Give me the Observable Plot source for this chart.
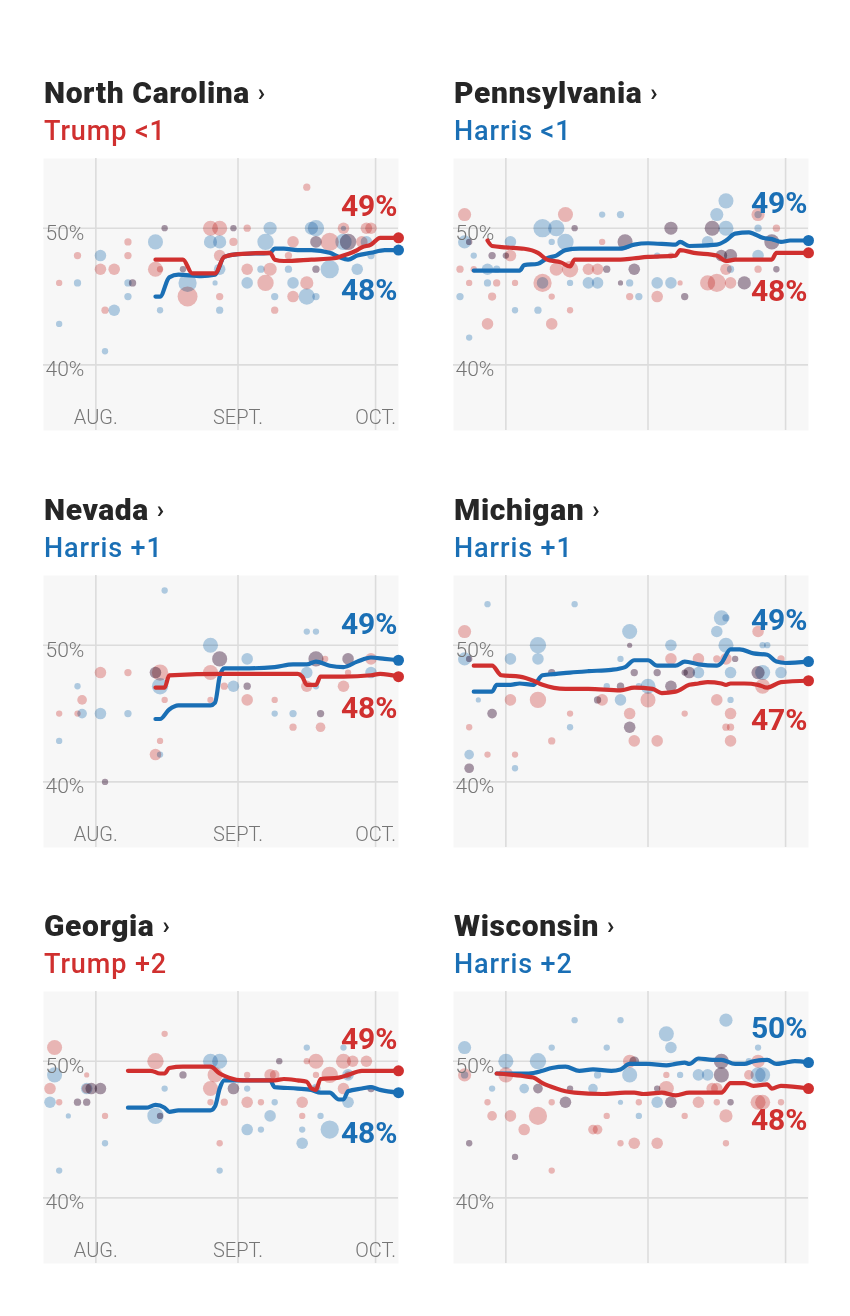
<!DOCTYPE html>
<html><head><meta charset="utf-8">
<script src="https://cdn.jsdelivr.net/npm/d3@7"></script>
<script src="https://cdn.jsdelivr.net/npm/@observablehq/plot@0.6"></script>
<style>
html,body{margin:0;padding:0;background:#fff;}
body{width:850px;height:1316px;position:relative;overflow:hidden;font-family:Roboto,"Liberation Sans",sans-serif;}
.title{position:absolute;font-weight:900;font-size:30px;line-height:30px;color:#262626;letter-spacing:0.6px;white-space:nowrap;}
.title .chev{font-weight:700;font-size:24px;margin-left:8px;letter-spacing:0;position:relative;top:-2px;}
.sub{position:absolute;font-weight:500;font-size:27px;line-height:27px;letter-spacing:0.9px;white-space:nowrap;}
.chart{position:absolute;}
</style></head>
<body>
<script>
// ---------------- data ----------------
const states = ["North Carolina", "Pennsylvania", "Nevada", "Michigan", "Georgia", "Wisconsin"];
const leaders = ["Trump <1", "Harris <1", "Harris +1", "Harris +1", "Trump +2", "Harris +2"];
const leaderParty = ["T", "H", "H", "H", "T", "H"];
const monthTicks = ["08-01", "09-01", "10-01"];
const monthLabels = ["AUG.", "SEPT.", "OCT."];
const pctTicks = [40, 50];

// end labels [Harris, Trump]
const ncEnd = ["48%", "49%"];
const paEnd = ["49%", "48%"];
const nvEnd = ["49%", "48%"];
const miEnd = ["49%", "47%"];
const gaEnd = ["48%", "49%"];
const wiEnd = ["50%", "48%"];

// polls: [date (2024 MM-DD), candidate, percent, sample size]
const ncPolls = [
["07-24","T",46,300],["07-24","H",43,300],["07-28","T",48,400],["07-28","H",46,400],
["08-02","H",48,1000],["08-02","T",47,1000],["08-03","T",44,400],["08-03","H",41,300],
["08-05","T",47,1000],["08-05","H",44,1000],["08-08","T",49,400],["08-08","H",46,400],["08-08","T",48,400],["08-08","H",45,400],
["08-09","T",46,400],["08-09","H",46,400],["08-14","H",49,1700],["08-14","T",47,1700],
["08-15","H",44,300],["08-15","T",47,300],["08-16","T",50,300],["08-16","H",50,300],
["08-20","T",47,300],["08-20","H",47,300],["08-21","H",46,2500],["08-21","T",45,3000],
["08-26","T",50,1700],["08-26","H",49,1300],["08-28","T",50,1700],["08-28","H",49,1300],["08-28","T",48,1000],["08-28","H",47,1000],
["08-27","H",46,200],["08-28","T",45,400],["08-28","H",44,400],
["08-31","T",50,300],["08-31","H",50,300],["08-31","T",49,500],
["09-03","T",50,400],["09-03","T",47,1000],["09-03","H",46,1000],
["09-07","H",49,2000],["09-07","T",46,2000],["09-06","H",47,400],
["09-08","H",50,1300],["09-08","T",47,1300],["09-09","H",45,400],["09-09","T",44,400],
["09-12","T",48,400],["09-12","H",47,400],["09-13","T",49,1000],["09-13","H",46,1000],["09-13","T",45,1000],
["09-16","T",46,1300],["09-16","H",45,2000],["09-16","T",53,400],["09-17","H",50,1300],
["09-18","H",50,2000],["09-18","T",49,1000],["09-18","H",49,1000],["09-18","T",47,400],["09-18","H",47,400],["09-18","H",45,400],
["09-21","T",49,2500],["09-21","H",47,2500],["09-24","T",50,1000],["09-24","H",49,2000],["09-24","H",50,200],
["09-25","T",49,2000],["09-25","H",49,2000],["09-27","H",47,1000],["09-28","T",49,1000],
["09-29","T",50,1000],["09-29","H",49,1000],["09-30","T",50,1000],["09-30","H",48,400]
];
const paPolls = [
["07-23","T",51,1300],["07-23","H",49,1300],["07-24","T",49,300],["07-24","H",49,300],
["07-25","H",48,300],["07-25","T",47,300],["07-22","T",47,400],["07-22","H",45,400],
["07-24","T",46,300],["07-24","H",42,300],["07-28","H",47,1000],["07-28","H",46,400],["07-28","T",43,1000],
["07-29","T",45,500],["07-29","H",48,400],["07-29","T",48,400],["07-30","H",47,400],["07-30","T",46,400],
["08-01","T",48,300],["08-01","H",48,300],["08-02","H",49,1000],["08-02","T",48,1000],
["08-03","T",46,300],["08-03","H",44,300],["08-08","H",44,400],
["08-09","H",50,2500],["08-09","T",46,2500],["08-09","H",46,1000],
["08-11","H",49,300],["08-11","T",45,300],["08-11","T",43,1000],
["08-12","H",50,2000],["08-12","T",47,1300],["08-14","H",49,2000],["08-14","T",51,1700],["08-15","T",47,2000],
["08-16","T",50,300],["08-16","H",50,300],["08-15","H",46,300],["08-15","T",44,300],
["08-19","T",47,1000],["08-19","H",46,1000],["08-21","T",47,1000],["08-21","H",46,1000],
["08-22","H",51,300],["08-22","T",49,300],["08-23","T",47,400],["08-23","H",47,400],
["08-26","H",51,400],["08-26","T",46,200],["08-26","H",46,200],["08-28","H",46,400],["08-28","T",45,400],
["08-27","T",49,1700],["08-27","H",49,1700],["08-29","T",47,1000],["08-29","H",47,1000],["08-30","H",45,400],
["09-03","T",45,1000],["09-03","H",46,1000],["09-03","H",48,300],
["09-06","H",46,1000],["09-06","T",48,300],["09-06","T",50,1300],["09-06","H",50,1300],
["09-09","T",45,400],["09-09","H",45,400],["09-08","T",46,200],
["09-14","H",49,1000],["09-14","T",46,1700],["09-15","T",50,1700],["09-15","H",50,1700],
["09-16","H",51,1300],["09-16","T",46,2500],["09-18","H",52,1700],["09-18","H",50,1700],["09-18","T",47,1000],
["09-17","T",48,1000],["09-17","H",48,1000],["09-19","T",48,1300],["09-19","H",48,1300],["09-19","T",46,1000],["09-19","H",47,400],
["09-22","T",46,1300],["09-22","H",46,1300],
["09-25","T",51,1300],["09-25","H",51,400],["09-25","H",50,400],["09-25","H",48,1000],["09-25","T",47,400],
["09-28","T",49,1700],["09-28","H",49,1700],["09-29","T",50,400],["09-29","T",47,300],["09-29","H",47,300]
];
const nvPolls = [
["08-16","H",54,300],["07-24","T",45,300],["07-24","H",43,300],["07-28","H",47,300],["07-28","T",45,300],
["07-29","T",46,700],["07-29","H",45,700],["08-02","T",48,1000],["08-02","H",45,1000],
["08-03","T",40,300],["08-03","H",40,300],["08-08","T",48,400],["08-08","H",45,400],
["08-14","T",48,1000],["08-14","H",48,1000],["08-15","T",48,2000],["08-15","H",47,2000],
["08-16","T",46,300],["08-15","T",43,300],["08-14","T",42,1000],["08-15","H",42,300],
["08-26","H",50,1700],["08-26","T",48,1700],["08-26","T",46,300],["08-28","T",49,1700],["08-28","H",49,1700],
["08-29","T",47,400],["08-31","H",47,1000],
["09-03","H",49,1000],["09-03","T",46,1000],["09-03","T",47,400],["09-03","H",47,400],
["09-09","T",46,300],["09-09","H",45,300],["09-13","H",45,400],["09-13","T",44,400],
["09-16","H",51,300],["09-16","H",48,1000],["09-16","T",47,1000],
["09-18","H",51,300],["09-18","T",49,1700],["09-18","H",49,1700],["09-18","H",47,300],
["09-19","T",45,400],["09-19","H",45,400],["09-19","T",44,700],["09-20","T",49,300],
["09-24","T",47,1000],["09-25","T",49,1000],["09-25","H",49,1000],["09-25","T",48,300],
["09-30","T",49,1000],["09-30","H",48,1000]
];
const miPolls = [
["07-28","H",53,300],["07-23","T",51,1300],["07-23","H",49,1300],["07-24","T",49,300],["07-24","H",49,300],
["07-24","T",44,300],["07-24","H",42,700],["07-24","T",41,700],["07-24","H",41,700],["07-26","H",46,200],
["07-28","T",42,300],["07-29","T",45,700],["07-29","H",45,700],["08-02","H",49,1000],["08-02","T",46,1000],
["08-03","T",42,300],["08-03","H",41,300],["08-08","H",50,2000],["08-08","H",49,1000],["08-08","T",46,2000],
["08-11","T",48,400],["08-11","H",48,400],["08-11","T",43,400],["08-15","T",45,300],["08-15","H",44,300],
["08-16","H",53,300],["08-21","T",46,400],["08-21","H",46,400],["08-22","T",46,1000],["08-23","H",47,300],
["08-26","H",49,300],["08-26","H",46,1000],["08-26","T",47,400],["08-26","H",47,400],
["08-28","H",51,1700],["08-28","T",50,200],["08-28","H",50,200],["08-28","T",45,1000],["08-28","T",44,1000],["08-28","H",44,1000],
["08-29","T",48,400],["08-29","H",48,400],["08-29","T",43,1000],["08-30","H",47,300],
["09-01","H",47,1700],["09-01","T",46,1700],["09-03","T",48,400],["09-03","H",48,400],["09-03","T",43,1000],
["09-06","H",50,1000],["09-06","T",49,1000],["09-06","T",47,1000],["09-06","H",47,1000],
["09-09","T",45,300],["09-09","T",48,300],["09-09","H",48,300],["09-10","T",48,1000],["09-10","H",48,1000],
["09-12","T",49,1000],["09-12","H",48,1000],["09-16","H",51,1000],["09-16","T",46,1000],["09-16","T",49,400],
["09-17","H",52,1700],["09-18","H",52,400],["09-18","H",50,1700],["09-18","T",49,1000],
["09-19","H",48,1000],["09-19","T",45,1000],["09-19","H",46,300],["09-19","T",44,400],["09-19","T",43,1000],["09-18","T",44,400],
["09-20","T",49,300],["09-20","H",49,300],
["09-25","T",51,1000],["09-25","T",48,1300],["09-25","H",48,1300],["09-26","H",48,1700],["09-26","T",47,1700],
["09-26","H",50,300],["09-27","H",50,300],["09-30","T",49,400],["09-30","H",48,1000]
];
const gaPolls = [
["07-23","T",51,1700],["07-23","H",49,1700],["07-22","T",48,1000],["07-22","H",47,1000],
["07-24","T",47,300],["07-24","H",42,300],["07-26","H",46,200],["07-28","T",47,400],["07-28","H",47,400],
["07-30","T",47,400],["07-30","H",47,400],["07-30","T",48,700],["07-30","H",48,1000],
["07-31","T",48,1000],["07-31","H",48,1000],["08-02","T",48,1000],["08-02","H",48,1000],["07-30","T",49,200],
["08-03","T",46,300],["08-03","H",44,300],["08-14","T",50,2000],["08-14","H",46,2000],["08-15","T",46,300],["08-15","H",46,300],
["08-16","H",48,300],["08-16","T",52,300],["08-20","T",49,400],["08-20","H",49,400],
["08-26","H",50,1700],["08-26","T",48,1700],["08-26","T",47,300],["08-28","H",50,1700],["08-27","T",49,1700],
["08-28","T",44,300],["08-28","H",42,300],["08-29","T",47,400],["08-31","T",48,1000],["08-31","H",48,1000],
["09-03","H",48,300],["09-03","T",47,1000],["09-03","H",45,1000],["09-03","T",49,300],
["09-06","T",47,300],["09-06","H",45,300],["09-08","T",49,1000],["09-08","H",46,1000],["09-09","T",49,700],
["09-09","H",47,300],["09-10","T",50,300],["09-10","H",50,300],
["09-15","T",47,1000],["09-15","T",46,300],["09-15","H",45,300],["09-15","H",44,1000],
["09-16","H",51,300],["09-16","T",50,300],["09-18","T",50,1700],["09-18","T",49,300],["09-18","H",48,700],["09-18","T",48,300],
["09-19","H",46,300],["09-21","T",49,2000],["09-21","H",45,2500],
["09-24","T",50,1700],["09-24","T",48,1000],["09-24","H",51,300],["09-25","H",49,1000],["09-25","T",49,400],["09-25","H",47,1000],
["09-26","T",50,1000],["09-29","T",50,1000],["09-30","H",48,400],["09-30","T",48,400]
];
const wiPolls = [
["07-23","H",51,1300],["07-23","T",49,1300],["07-23","H",49,400],["07-24","T",44,300],["07-24","H",44,300],
["07-28","T",47,300],["07-29","T",46,700],["07-29","H",48,300],["08-01","H",50,1700],["08-01","T",49,1700],
["08-02","T",46,1000],["08-03","T",43,300],["08-03","H",43,300],["08-05","H",48,700],["08-05","T",45,1000],
["08-08","H",50,2000],["08-08","T",46,2500],["08-08","T",48,700],["08-08","H",48,700],
["08-11","H",51,300],["08-11","T",42,300],["08-11","T",47,300],["08-14","T",47,1000],["08-14","H",47,1000],
["08-15","T",48,300],["08-15","H",48,300],["08-16","H",53,300],["08-20","H",48,700],["08-21","T",45,700],["08-20","T",45,700],
["08-21","H",49,400],["08-23","H",51,300],["08-23","T",46,300],["08-26","T",44,300],["08-26","H",47,200],["08-26","H",53,300],
["08-28","T",50,1300],["08-28","H",49,1700],["08-29","T",44,1000],["08-29","T",50,700],["08-29","H",50,700],
["08-30","T",47,300],["08-30","H",46,300],["09-03","H",47,1000],["09-03","T",44,1000],["09-03","T",48,300],["09-03","H",48,300],
["09-05","T",48,1700],["09-05","T",49,300],["09-05","H",52,1700],["09-06","H",51,1000],["09-06","T",47,1000],["09-06","H",47,1000],
["09-09","T",46,300],["09-08","H",49,300],["09-12","H",49,1000],["09-12","T",47,1000],["09-14","H",49,1000],["09-15","T",48,1000],
["09-16","T",48,1000],["09-16","T",47,300],["09-17","T",50,1700],["09-17","H",50,1700],["09-17","T",49,1700],["09-17","H",49,1700],
["09-18","H",53,1300],["09-18","T",46,1300],["09-18","T",44,300],["09-19","T",47,300],["09-19","H",47,300],
["09-23","T",49,700],["09-23","H",50,300],["09-25","T",50,1300],["09-25","H",51,300],["09-25","H",49,1700],["09-25","T",47,1700],
["09-26","H",49,1700],["09-26","T",47,1700],["09-30","T",47,300]
];

// polling averages: [date, percent]
const ncHarris = [["08-14",45.0],["08-15",45.0],["08-17",46.4],["08-19",46.6],["08-24",46.5],["08-27",46.6],["08-29",47.9],["09-01",48.1],["09-08",48.2],["09-09",48.5],["09-11",48.5],["09-14",48.4],["09-17",48.4],["09-21",48.2],["09-23",47.9],["09-25",47.7],["09-27",48.0],["09-30",48.2],["10-03",48.4],["10-06",48.4]];
const ncTrump = [["08-14",47.7],["08-20",47.7],["08-22",46.7],["08-27",46.7],["08-29",47.9],["09-01",48.1],["09-08",48.2],["09-09",47.7],["09-11",47.6],["09-17",47.7],["09-22",47.8],["09-24",48.0],["09-27",48.4],["09-28",48.6],["09-30",48.8],["10-02",49.3],["10-06",49.3]];
const paHarris = [["07-25",46.9],["08-04",46.9],["08-05",47.3],["08-08",47.4],["08-10",47.8],["08-12",48.0],["08-14",48.4],["08-17",48.5],["08-26",48.5],["08-29",48.8],["09-01",48.9],["09-07",48.8],["09-08",49.0],["09-10",48.7],["09-16",48.8],["09-18",49.1],["09-20",49.6],["09-23",49.7],["09-24",49.6],["09-26",49.3],["09-28",49.2],["09-30",49.0],["10-02",49.1],["10-06",49.1]];
const paTrump = [["07-28",49.1],["07-29",48.7],["08-01",48.6],["08-05",48.5],["08-08",48.2],["08-10",47.7],["08-13",47.5],["08-15",47.2],["08-16",47.7],["08-26",47.7],["08-29",47.8],["09-01",47.9],["09-07",48.0],["09-08",48.4],["09-11",48.2],["09-16",48.0],["09-18",47.6],["09-20",47.7],["09-25",47.7],["09-28",47.7],["09-29",48.2],["10-06",48.2]];
const nvHarris = [["08-14",44.6],["08-15",44.6],["08-17",45.3],["08-19",45.6],["08-26",45.6],["08-27",45.8],["08-28",47.7],["08-29",48.3],["09-02",48.3],["09-09",48.4],["09-13",48.6],["09-16",48.6],["09-18",48.8],["09-21",48.5],["09-24",48.4],["09-27",48.8],["09-30",49.1],["10-03",49.0],["10-06",48.9]];
const nvTrump = [["08-14",46.9],["08-16",46.9],["08-17",47.8],["08-29",47.9],["09-09",47.9],["09-14",47.9],["09-15",47.7],["09-16",47.1],["09-18",47.1],["09-19",47.7],["09-24",47.7],["09-30",47.8],["10-02",47.9],["10-06",47.7]];
const miHarris = [["07-25",46.6],["07-29",46.6],["07-30",47.1],["08-02",47.1],["08-04",47.2],["08-07",47.1],["08-09",47.8],["08-12",47.9],["08-15",48.0],["08-19",48.1],["08-24",48.2],["08-27",48.4],["08-29",48.9],["09-01",48.9],["09-03",48.5],["09-07",48.5],["09-09",48.8],["09-12",48.6],["09-16",48.5],["09-17",48.7],["09-19",49.7],["09-21",49.7],["09-24",49.4],["09-27",49.3],["09-29",48.8],["10-01",48.7],["10-06",48.8]];
const miTrump = [["07-25",48.5],["07-29",48.5],["07-31",47.8],["08-04",47.7],["08-07",47.4],["08-09",47.1],["08-14",46.8],["08-19",46.8],["08-26",46.7],["08-29",46.9],["09-02",46.8],["09-04",46.5],["09-07",46.6],["09-10",47.1],["09-12",47.2],["09-14",47.3],["09-17",47.2],["09-18",47.1],["09-19",47.2],["09-22",47.2],["09-25",47.1],["09-27",46.9],["09-30",47.3],["10-06",47.4]];
const gaHarris = [["08-08",46.6],["08-12",46.6],["08-14",46.8],["08-16",46.6],["08-17",46.3],["08-19",46.4],["08-26",46.4],["08-27",46.7],["08-28",48.0],["08-29",48.6],["09-08",48.6],["09-09",48.1],["09-14",48.0],["09-17",47.9],["09-19",47.7],["09-21",47.7],["09-23",47.2],["09-24",47.2],["09-25",47.8],["09-28",48.0],["09-30",48.1],["10-02",47.9],["10-06",47.7]];
const gaTrump = [["08-08",49.3],["08-13",49.3],["08-15",49.1],["08-16",49.1],["08-17",49.5],["08-20",49.6],["08-26",49.6],["08-28",49.1],["08-30",48.8],["09-02",48.6],["09-09",48.6],["09-11",48.7],["09-14",48.6],["09-16",48.5],["09-17",48.0],["09-18",47.9],["09-19",48.7],["09-23",48.8],["09-25",49.0],["09-28",49.3],["10-01",49.3],["10-06",49.3]];
const wiHarris = [["07-30",49.1],["08-04",49.1],["08-06",49.1],["08-09",49.3],["08-11",49.5],["08-14",49.6],["08-17",49.3],["08-20",49.4],["08-24",49.3],["08-26",49.4],["08-28",49.8],["09-01",49.8],["09-05",49.7],["09-07",49.8],["09-09",49.9],["09-10",49.8],["09-12",50.2],["09-15",50.1],["09-17",50.1],["09-20",49.8],["09-22",49.8],["09-24",50.0],["09-27",50.1],["09-29",49.8],["10-01",49.9],["10-03",50.0],["10-06",49.9]];
const wiTrump = [["07-30",49.1],["08-05",48.9],["08-07",48.8],["08-09",48.4],["08-12",48.0],["08-14",47.8],["08-16",47.7],["08-22",47.6],["08-27",47.7],["08-29",47.7],["08-31",47.6],["09-04",47.7],["09-07",47.5],["09-10",47.7],["09-14",47.7],["09-17",47.7],["09-19",48.4],["09-22",48.4],["09-24",48.2],["09-27",48.3],["09-28",48.0],["09-30",48.2],["10-06",48.0]];

// ---------------- drawing ----------------
const RED = "#d0302f", BLUE = "#1a6fb5", GRID = "#dcdcdc", TICK = "#767676";
const parseDay = s => new Date(`2024-${s}T00:00:00Z`);
const xDomain = [new Date(Date.UTC(2024, 6, 20, 14)), parseDay("10-06")];
const yDomain = [35.2, 55.1];

const panels = [
  {polls: ncPolls, harris: ncHarris, trump: ncTrump, end: ncEnd},
  {polls: paPolls, harris: paHarris, trump: paTrump, end: paEnd},
  {polls: nvPolls, harris: nvHarris, trump: nvTrump, end: nvEnd},
  {polls: miPolls, harris: miHarris, trump: miTrump, end: miEnd},
  {polls: gaPolls, harris: gaHarris, trump: gaTrump, end: gaEnd},
  {polls: wiPolls, harris: wiHarris, trump: wiTrump, end: wiEnd}
];
// layout: label offsets (px) above the upper line end / below the lower one
const labelOffsets = [[-22, 50], [-28, 48], [-26, 41], [-32, 49], [-22, 50], [-25, 41]];
const colX = [43, 453];
const rowY = [0, 416.6, 833.3];

panels.forEach((p, i) => {
  const col = i % 2, row = Math.floor(i / 2);
  const left = colX[col], top = rowY[row];

  const t = document.createElement("div");
  t.className = "title";
  t.style.left = (left + 1) + "px";
  t.style.top = (top + 78) + "px";
  t.innerHTML = `${states[i]}<span class="chev">›</span>`;
  document.body.appendChild(t);

  const s = document.createElement("div");
  s.className = "sub";
  s.style.left = (left + 1) + "px";
  s.style.top = (top + 118) + "px";
  s.style.color = leaderParty[i] === "H" ? BLUE : RED;
  s.textContent = leaders[i];
  document.body.appendChild(s);

  const hLast = p.harris[p.harris.length - 1], tLast = p.trump[p.trump.length - 1];
  const harrisUp = hLast[1] >= tLast[1];
  const ends = [
    {d: hLast, color: BLUE, text: p.end[0], dy: harrisUp ? labelOffsets[i][0] : labelOffsets[i][1]},
    {d: tLast, color: RED, text: p.end[1], dy: harrisUp ? labelOffsets[i][1] : labelOffsets[i][0]}
  ];

  const chart = Plot.plot({
    width: 361, height: 272,
    marginLeft: 0, marginRight: 6, marginTop: 0, marginBottom: 0,
    x: {type: "utc", domain: xDomain, axis: null},
    y: {domain: yDomain, axis: null},
    r: {type: "sqrt", domain: [0, 3000], range: [0, 10]},
    style: {fontFamily: "Roboto, sans-serif", background: "transparent", overflow: "visible"},
    marks: [
      Plot.frame({fill: "#f7f7f7", stroke: "none"}),
      Plot.ruleX(monthTicks, {x: parseDay, stroke: GRID, strokeWidth: 1.6}),
      Plot.ruleY(pctTicks, {y: d => d, stroke: GRID, strokeWidth: 1.6}),
      Plot.dot(p.polls, {
        x: d => parseDay(d[0]), y: d => d[2], r: d => d[3],
        fill: d => d[1] === "H" ? BLUE : RED, fillOpacity: 0.33, mixBlendMode: "multiply"
      }),
      Plot.text(pctTicks, {y: d => d, text: d => d + "%", frameAnchor: "left", textAnchor: "start",
        lineAnchor: "bottom", dx: 2, dy: 11.5, fill: TICK, fontSize: 21, fontWeight: 300}),
      col === 0 ? Plot.text(monthTicks, {x: parseDay, text: (d, j) => monthLabels[j], frameAnchor: "bottom",
        lineAnchor: "bottom", dy: -7, fill: TICK, fontSize: 20, fontWeight: 300}) : null,
      Plot.line(p.harris, {x: d => parseDay(d[0]), y: d => d[1], stroke: BLUE, strokeWidth: 4.2,
        curve: "monotone-x", strokeLinejoin: "round", strokeLinecap: "round"}),
      Plot.line(p.trump, {x: d => parseDay(d[0]), y: d => d[1], stroke: RED, strokeWidth: 4.2,
        curve: "monotone-x", strokeLinejoin: "round", strokeLinecap: "round"}),
      Plot.dot(ends, {x: e => parseDay(e.d[0]), y: e => e.d[1], fill: e => e.color, r: 5.5}),
      ...ends.map(e => Plot.text([e], {x: e => parseDay(e.d[0]), y: e => e.d[1], text: e => e.text,
        fill: e.color, textAnchor: "end", lineAnchor: "bottom", dx: -1, dy: e.dy, fontSize: 30, fontWeight: 700,
        letterSpacing: 1}))
    ]
  });
  chart.classList.add("chart");
  chart.style.left = left + "px";
  chart.style.top = (top + 158) + "px";
  chart.style.position = "absolute";
  document.body.appendChild(chart);
});
</script>
</body></html>
